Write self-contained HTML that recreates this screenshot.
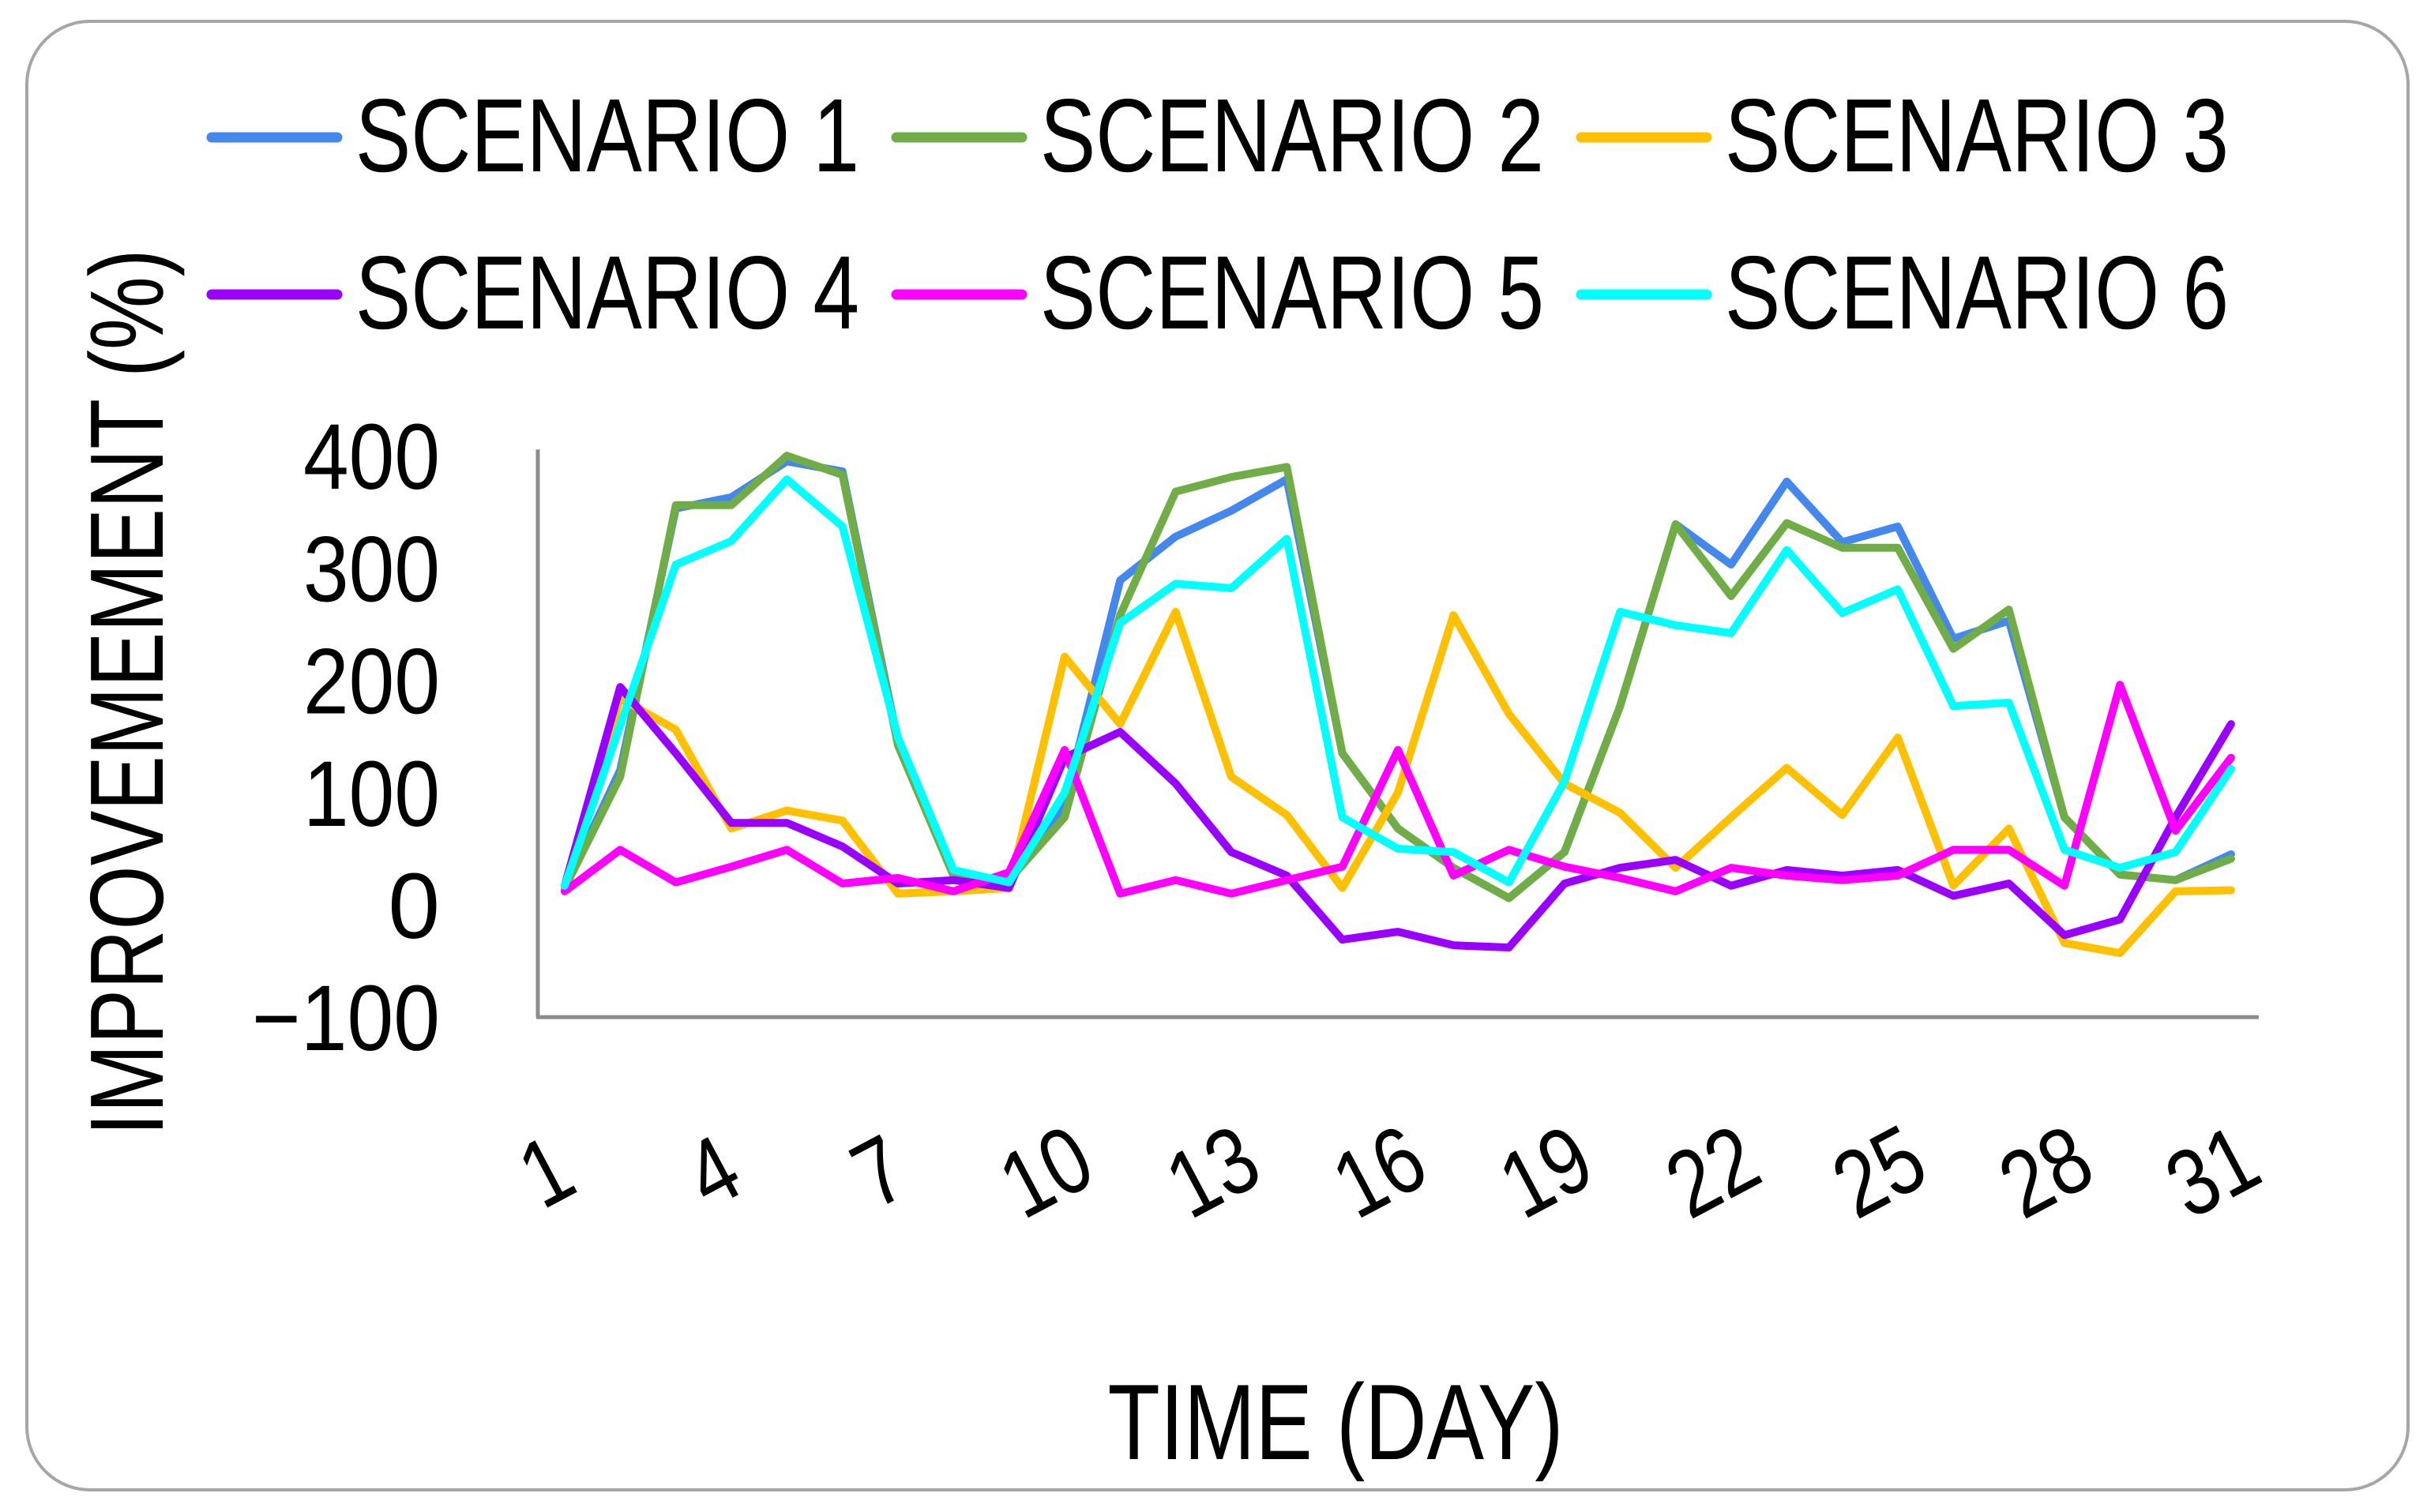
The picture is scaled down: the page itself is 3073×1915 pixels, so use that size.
<!DOCTYPE html>
<html><head><meta charset="utf-8"><style>
html,body{margin:0;padding:0;background:#fff;}
svg{display:block;}
text{font-family:"Liberation Sans",Arial,sans-serif;fill:#000;}
</style></head><body>
<svg id="chart" width="3073" height="1915" viewBox="0 0 3073 1915" xmlns="http://www.w3.org/2000/svg">
<rect x="34" y="27" width="3015" height="1860" rx="80" ry="80" fill="#fff" stroke="#a6a6a6" stroke-width="4"/>
<g id="legend"></g>
<g id="plot"></g>
<text transform="translate(206,877) rotate(-90)" text-anchor="middle" font-size="132" textLength="1123" lengthAdjust="spacingAndGlyphs">IMPROVEMEMENT (%)</text>
<text x="1691" y="1848" text-anchor="middle" font-size="136" textLength="577" lengthAdjust="spacingAndGlyphs">TIME (DAY)</text>
</svg>
<script>
const days = [];
for (let d = 1; d <= 31; d++) days.push(d);
const seriesNames = ["SCENARIO 1","SCENARIO 2","SCENARIO 3","SCENARIO 4","SCENARIO 5","SCENARIO 6"];
const seriesColors = ["#4488EE","#70AD47","#FFC000","#9900FF","#FF00FF","#00FFFF"];
const s1 = [15,120,353,363,395,386,145,26,20,90,289,328,351,379,135,68,33,6,47,177,339,303,377,323,337,237,253,78,27,22,45];
const s2 = [15,114,356,356,400,383,142,26,22,78,258,368,381,390,135,68,33,6,47,177,339,275,340,318,318,228,263,78,27,22,41];
const s3 = [15,184,156,68,84,75,10,12,15,221,161,261,114,80,15,100,258,170,108,82,33,78,122,80,149,17,68,-34,-43,12,13];
const s4 = [17,194,135,73,73,52,19,22,15,131,154,108,47,26,-31,-24,-36,-38,19,33,40,17,31,26,31,8,19,-27,-13,78,161];
const s5 = [12,49,20,34,49,19,24,12,29,138,10,22,10,22,34,138,26,49,34,24,12,33,26,22,26,49,49,17,196,66,131];
const s6 = [17,160,303,324,379,337,149,31,20,100,251,286,282,326,78,50,47,20,110,261,249,242,316,260,281,177,180,49,33,47,121];
const yTicks = [400,300,200,100,0,-100];
const yTickLabels = ["400","300","200","100","0","\u2212100"];
const xTicks = [1,4,7,10,13,16,19,22,25,28,31];

const NS = "http://www.w3.org/2000/svg";
const X0 = 715, DX = 70.33;
const Y0 = 1146, PER = 1.422;
function xPos(d){ return X0 + (d - 1) * DX; }
function yPos(v){ return Y0 - v * PER; }
function mk(tag, attrs){ const e = document.createElementNS(NS, tag); for (const k in attrs) e.setAttribute(k, attrs[k]); return e; }

const plot = document.getElementById("plot");
const axisY = mk("line",{x1:681,y1:yPos(400)-8,x2:681,y2:yPos(-100),stroke:"#8c8c8c","stroke-width":5});


plot.appendChild(axisY);
const axisX = mk("line",{x1:679,y1:yPos(-100),x2:2860,y2:yPos(-100),stroke:"#8c8c8c","stroke-width":5});


plot.appendChild(axisX);

yTicks.forEach((v, i) => {
  const lab = yTickLabels[i];
  const t = mk("text",{x:557,y:yPos(v)+42,"text-anchor":"end","font-size":118});
  if (lab.length > 1) { t.setAttribute("textLength", lab.length === 4 ? 238 : 173); t.setAttribute("lengthAdjust","spacingAndGlyphs"); }
  t.textContent = lab;
  
  
  plot.appendChild(t);
});

xTicks.forEach(d => {
  const g = mk("g",{transform:"translate(" + (xPos(d) - 24) + ",1483) rotate(-28) scale(0.82,1)"});
  const t = mk("text",{x:0,y:42,"text-anchor":"middle","font-size":120});
  t.textContent = String(d);
  
  
  g.appendChild(t);
  plot.appendChild(g);
});

const allSeries = [s1,s2,s3,s4,s5,s6];
allSeries.forEach((s, i) => {
  const pts = s.map((v, j) => xPos(days[j]).toFixed(1) + "," + yPos(v).toFixed(1)).join(" ");
  const pl = mk("polyline",{points:pts,fill:"none",stroke:seriesColors[i],"stroke-width":10,"stroke-linejoin":"round","stroke-linecap":"round"});
  
  
  plot.appendChild(pl);
});

const legend = document.getElementById("legend");
const colX = [262, 1129, 1996];
const rowY = [174, 373];
seriesNames.forEach((n, i) => {
  const cx = colX[i % 3], cy = rowY[Math.floor(i / 3)];
  const g = mk("g",{});
  
  
  const ln = mk("line",{x1:cx+6,y1:cy,x2:cx+165,y2:cy,stroke:seriesColors[i],"stroke-width":13,"stroke-linecap":"round"});
  
  
  g.appendChild(ln);
  const t = mk("text",{x:cx+188,y:cy+43,"font-size":132,textLength:638,lengthAdjust:"spacingAndGlyphs"});
  t.textContent = n;
  
  
  g.appendChild(t);
  legend.appendChild(g);
});
</script>
</body></html>
